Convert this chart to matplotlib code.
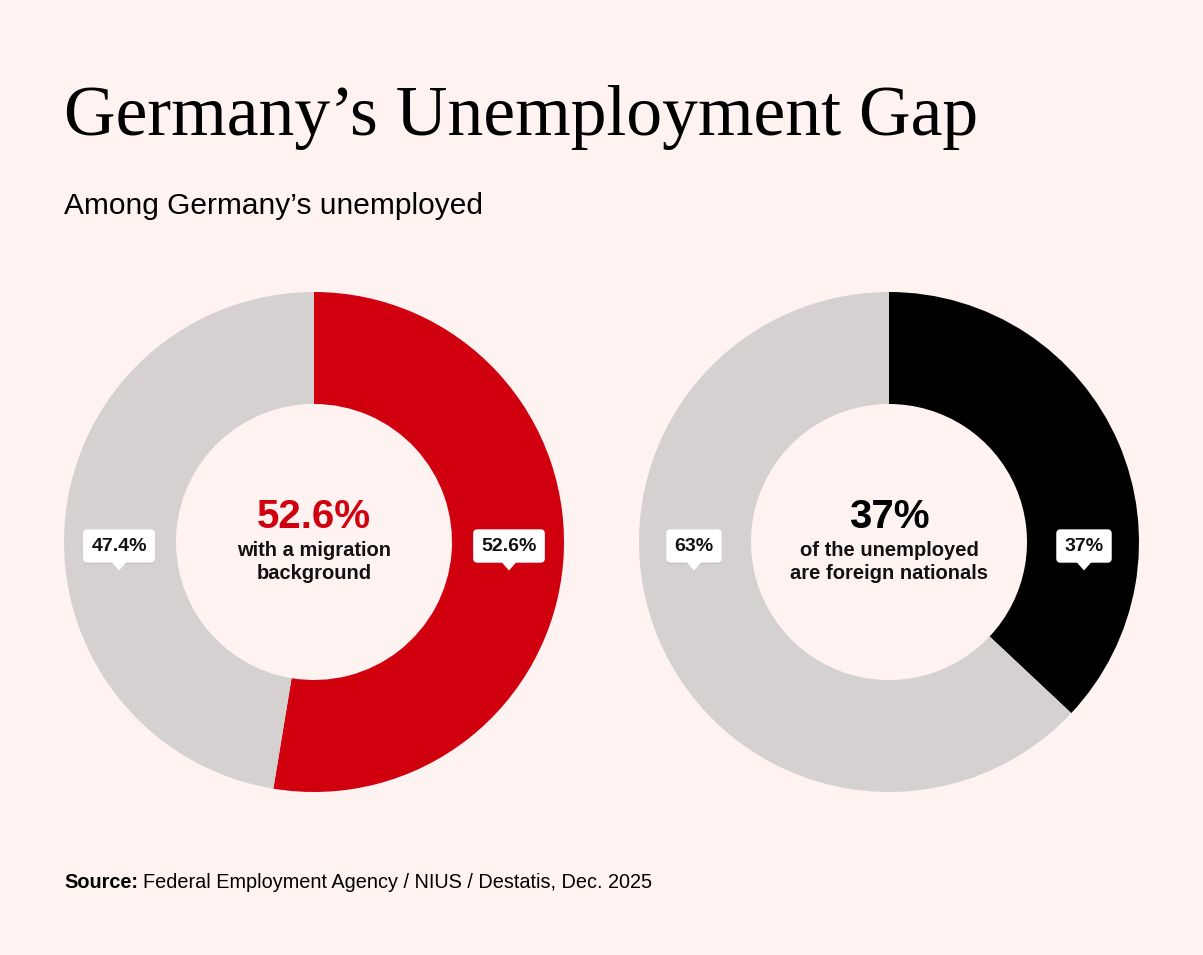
import matplotlib

matplotlib.use("Agg")
from matplotlib import pyplot as plt
from matplotlib.patches import Polygon
from matplotlib import patheffects

W, H = 1203, 955
BG = "#fff3f2"
GRAY = "#d5d1d0"
SANS = "Liberation Sans"
SERIF = "Liberation Serif"

title = "Germany\u2019s Unemployment Gap"
subtitle = "Among Germany\u2019s unemployed"
source_label = "Source:"
source_text = "Federal Employment Agency / NIUS / Destatis, Dec. 2025"

# left donut: migration background
mig_values = [52.6, 47.4]
mig_labels = ["52.6%", "47.4%"]
mig_colors = ["#d0000f", GRAY]
mig_headline = "52.6%"
mig_caption = ["with a migration", "background"]

# right donut: foreign nationals
for_values = [37, 63]
for_labels = ["37%", "63%"]
for_colors = ["#000000", GRAY]
for_headline = "37%"
for_caption = ["of the unemployed", "are foreign nationals"]


def px_axes(fig, cx, cy, r):
    return fig.add_axes([(cx - r) / W, (H - cy - r) / H, 2 * r / W, 2 * r / H])


def callout(ax, x, y, text):
    t = ax.text(x, y, text, ha="center", va="center", fontsize=14,
                fontweight="bold", family=SANS, color="#111111", zorder=5,
                bbox=dict(boxstyle="round,pad=0.42,rounding_size=0.22",
                          fc="white", ec="none"))
    t.get_bbox_patch().set_path_effects(
        [patheffects.SimplePatchShadow(offset=(0, -1), alpha=0.12), patheffects.Normal()])
    tri = Polygon([(x - 0.03, y - 0.064), (x + 0.03, y - 0.064), (x, y - 0.098)],
                  closed=True, fc="white", ec="none", zorder=6)
    ax.add_patch(tri)


def donut(fig, cx, values, colors, labels, headline, head_color, caption):
    ax = px_axes(fig, cx, 542, 250)
    ax.pie(values, colors=colors, startangle=90, counterclock=False, radius=1,
           wedgeprops=dict(width=0.448, linewidth=0))
    ax.set_xlim(-1, 1)
    ax.set_ylim(-1, 1)
    ax.set_aspect("auto")
    ax.axis("off")
    callout(ax, 0.78, -0.016, labels[0])
    callout(ax, -0.78, -0.016, labels[1])
    ax.text(0, 0.058, headline, ha="center", va="baseline", fontsize=29,
            fontweight="bold", family=SANS, color=head_color)
    for i, line in enumerate(caption):
        ax.text(0, -0.054 - i * 0.094, line, ha="center", va="baseline",
                fontsize=14.5, fontweight="bold", family=SANS, color="#111111")
    return ax


fig = plt.figure(figsize=(W / 100, H / 100), dpi=100, facecolor=BG)

fig.text(64 / W, 1 - 135 / H, title, family=SERIF, fontsize=51.6, color="black",
         va="baseline", ha="left")
fig.text(64 / W, 1 - 214 / H, subtitle, family=SANS, fontsize=21.5, color="black",
         va="baseline", ha="left")

donut(fig, 314, mig_values, mig_colors, mig_labels, mig_headline, "#d0000f", mig_caption)
donut(fig, 889, for_values, for_colors, for_labels, for_headline, "black", for_caption)

src = fig.text(64 / W, 1 - 888 / H, source_label, family=SANS, fontsize=14.3,
               fontweight="bold", va="baseline", ha="left")
fig.canvas.draw()
bb = src.get_window_extent()
fig.text((bb.x1 + 5) / W, 1 - 888 / H, source_text, family=SANS, fontsize=14.3,
         va="baseline", ha="left")

fig.savefig("out.png", dpi=100, facecolor=BG)
plt.close(fig)
